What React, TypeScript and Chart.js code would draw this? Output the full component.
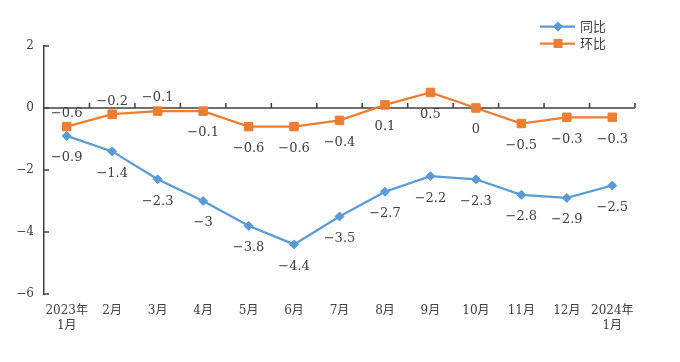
import React, { useEffect, useRef } from 'react';
import { Chart, registerables } from 'chart.js';

Chart.register(...registerables);

// ---- data ----
const categories: (string | string[])[] = [
  ['2023年', '1月'], '2月', '3月', '4月', '5月', '6月', '7月', '8月', '9月', '10月', '11月', '12月', ['2024年', '1月'],
];
const yoyName = '同比';
const momName = '环比';
const yoyValues = [-0.9, -1.4, -2.3, -3, -3.8, -4.4, -3.5, -2.7, -2.2, -2.3, -2.8, -2.9, -2.5];
const momValues = [-0.6, -0.2, -0.1, -0.1, -0.6, -0.6, -0.4, 0.1, 0.5, 0, -0.5, -0.3, -0.3];
const yMin = -6;
const yMax = 2;
const yStep = 2;

// label placement (above / below the point)
const yoyLabelSide = ['below', 'below', 'below', 'below', 'below', 'below', 'below', 'below', 'below', 'below', 'below', 'below', 'below'];
const momLabelSide = ['above', 'above', 'above', 'below', 'below', 'below', 'below', 'below', 'below', 'below', 'below', 'below', 'below'];

// ---- styles ----
const BLUE = '#5B9BD5';
const ORANGE = '#ED7D31';
const AXIS = '#404040';
const TEXT = '#404040';
const SERIF = "'DejaVu Serif', 'Noto Sans CJK SC', serif";
const SANS = "'Noto Sans CJK SC', 'Noto Sans', sans-serif";

const fmt = (v: number) => String(v).replace('-', '\u2212');

const axisPlugin = {
  id: 'zeroAxis',
  beforeDatasetsDraw(chart: any) {
    const { ctx, chartArea, scales } = chart;
    const xs = scales.x;
    const ys = scales.y;
    ctx.save();
    ctx.strokeStyle = AXIS;
    ctx.lineWidth = 1.5;
    const y0 = ys.getPixelForValue(0);
    ctx.beginPath();
    ctx.moveTo(chartArea.left, y0);
    ctx.lineTo(chartArea.right, y0);
    ctx.stroke();
    const n = categories.length;
    ctx.beginPath();
    for (let i = 0; i < n; i++) {
      const bx = i < n - 1 ? (xs.getPixelForValue(i) + xs.getPixelForValue(i + 1)) / 2 : chartArea.right;
      ctx.moveTo(bx, y0);
      ctx.lineTo(bx, y0 - 5);
    }
    for (let v = yMin; v <= yMax; v += yStep) {
      const py = ys.getPixelForValue(v);
      ctx.moveTo(chartArea.left, py);
      ctx.lineTo(chartArea.left + 5, py);
    }
    ctx.stroke();
    ctx.restore();
  },
};

const labelPlugin = {
  id: 'pointLabels',
  afterDatasetsDraw(chart: any) {
    const { ctx } = chart;
    const sides = [yoyLabelSide, momLabelSide];
    ctx.save();
    ctx.font = `13px ${SERIF}`;
    ctx.fillStyle = TEXT;
    ctx.textAlign = 'center';
    ctx.textBaseline = 'middle';
    chart.data.datasets.forEach((ds: any, di: number) => {
      const meta = chart.getDatasetMeta(di);
      meta.data.forEach((pt: any, i: number) => {
        const side = sides[di][i];
        const dy = side === 'above' ? -13 : 22;
        ctx.fillText(fmt(ds.data[i]), pt.x, pt.y + dy);
      });
    });
    ctx.restore();
  },
};

const legendPlugin = {
  id: 'cornerLegend',
  afterDraw(chart: any) {
    const { ctx, chartArea } = chart;
    const x0 = chartArea.right - 95;
    const rows = [26.5, 43.5];
    ctx.save();
    chart.data.datasets.forEach((ds: any, di: number) => {
      const y = rows[di];
      ctx.strokeStyle = ds.borderColor;
      ctx.lineWidth = 2.25;
      ctx.beginPath();
      ctx.moveTo(x0, y);
      ctx.lineTo(x0 + 35, y);
      ctx.stroke();
      ctx.fillStyle = ds.borderColor;
      const cx = x0 + 18;
      ctx.beginPath();
      if (ds.pointStyle === 'rectRot') {
        ctx.moveTo(cx - 5, y);
        ctx.lineTo(cx, y - 5);
        ctx.lineTo(cx + 5, y);
        ctx.lineTo(cx, y + 5);
        ctx.closePath();
      } else {
        ctx.rect(cx - 4.5, y - 4.5, 9, 9);
      }
      ctx.fill();
      ctx.fillStyle = TEXT;
      ctx.font = `13px ${SANS}`;
      ctx.textAlign = 'left';
      ctx.textBaseline = 'middle';
      ctx.fillText(ds.label, x0 + 40, y);
    });
    ctx.restore();
  },
};

export default function App() {
  const ref = useRef<HTMLCanvasElement | null>(null);

  useEffect(() => {
    if (!ref.current) return;
    const chart = new Chart(ref.current, {
      type: 'line',
      data: {
        labels: categories as any,
        datasets: [
          {
            label: yoyName,
            data: yoyValues,
            borderColor: BLUE,
            backgroundColor: BLUE,
            borderWidth: 2.25,
            pointStyle: 'rectRot',
            pointRadius: 4.5,
            pointBorderWidth: 1,
            pointBackgroundColor: BLUE,
            pointBorderColor: BLUE,
            tension: 0,
          },
          {
            label: momName,
            data: momValues,
            borderColor: ORANGE,
            backgroundColor: ORANGE,
            borderWidth: 2.25,
            pointStyle: 'rect',
            pointRadius: 6,
            pointBorderWidth: 1,
            pointBackgroundColor: ORANGE,
            pointBorderColor: ORANGE,
            tension: 0,
          },
        ],
      },
      options: {
        responsive: false,
        animation: false,
        layout: { padding: { left: 0, top: 46, right: 45, bottom: 0 } },
        plugins: {
          legend: { display: false },
          tooltip: { enabled: false },
        },
        scales: {
          x: {
            offset: true,
            grid: { display: false, drawTicks: false, offset: true },
            border: { display: false },
            ticks: {
              color: TEXT,
              font: { family: SERIF, size: 12 },
              padding: 10,
              maxRotation: 0,
              autoSkip: false,
            },
            afterFit: (s: any) => {
              s.height = 68;
            },
          },
          y: {
            min: yMin,
            max: yMax,
            grid: { display: false, drawTicks: false },
            border: { display: true, color: AXIS, width: 1.5 },
            ticks: {
              stepSize: yStep,
              color: TEXT,
              font: { family: SERIF, size: 12 },
              padding: 10,
              callback: (v: any) => fmt(Number(v)),
            },
            afterFit: (s: any) => {
              s.width = 44;
            },
          },
        },
      },
      plugins: [axisPlugin, labelPlugin, legendPlugin],
    });
    return () => chart.destroy();
  }, []);

  return (
    <div style={{ position: 'absolute', left: 0, top: 0, width: 680, height: 362, background: '#fff' }}>
      <canvas ref={ref} width={680} height={362} style={{ display: 'block' }} />
    </div>
  );
}
